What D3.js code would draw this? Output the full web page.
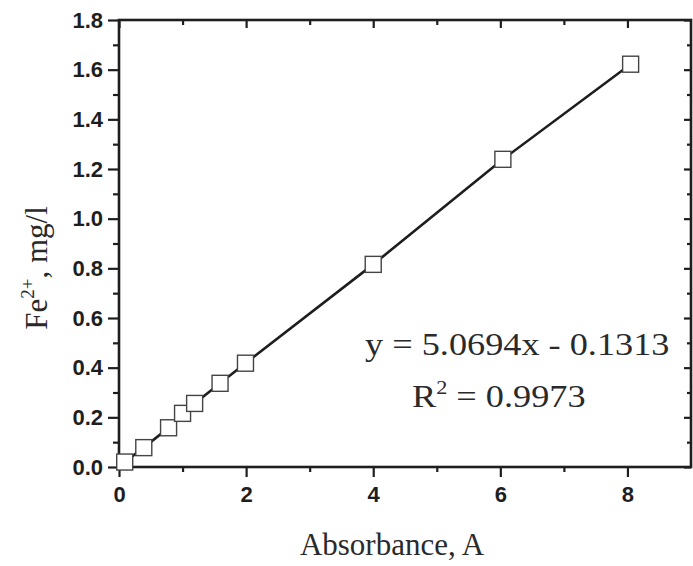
<!DOCTYPE html>
<html>
<head>
<meta charset="utf-8">
<script src="https://cdn.jsdelivr.net/npm/d3@7"></script>
<style>
  html, body { margin: 0; padding: 0; background: #fff; }
  svg { display: block; }
</style>
</head>
<body>
<div id="chart"></div>
<script>
// Data.
const absorbance = [0.09, 0.39, 0.78, 1.0, 1.19, 1.59, 1.99, 4.0, 6.04, 8.05];
const ironConc = [0.02, 0.078, 0.158, 0.216, 0.256, 0.337, 0.418, 0.816, 1.239, 1.622];
const xMajorTicks = [0, 2, 4, 6, 8];
const xMinorTicks = [1, 3, 5, 7];
const yMajorTicks = [0, 0.2, 0.4, 0.6, 0.8, 1.0, 1.2, 1.4, 1.6, 1.8];
const yMinorTicks = [0.1, 0.3, 0.5, 0.7, 0.9, 1.1, 1.3, 1.5, 1.7];
const equationText = ["y = 5.0694x - 0.1313", "0.9973"];

const width = 693;
const height = 566;
const ink = "#1e1e1e";

const svg = d3.select("#chart")
  .append("svg")
  .attr("width", width)
  .attr("height", height);

// Scales.
const x = d3.scaleLinear().domain([0, 9]).range([119, 691]);
const y = d3.scaleLinear().domain([0, 1.8]).range([467, 20]);

const tickFont = (g) => g.selectAll("text")
  .attr("font-family", "'Liberation Sans', Arial, sans-serif")
  .attr("font-weight", "bold")
  .attr("font-size", 22)
  .attr("fill", ink);

const styleAxis = (g) => {
  g.select(".domain").remove();
  g.selectAll("line").attr("stroke", ink).attr("stroke-width", 2.2);
};

// Bottom axis, outward ticks.
svg.append("g")
  .attr("transform", `translate(0,${y(0)})`)
  .call(d3.axisBottom(x).tickValues(xMajorTicks).tickSize(10).tickPadding(9).tickFormat(d3.format("d")))
  .call(styleAxis)
  .call(tickFont);
svg.append("g")
  .attr("transform", `translate(0,${y(0)})`)
  .call(d3.axisBottom(x).tickValues(xMinorTicks).tickSize(5).tickFormat(""))
  .call(styleAxis);

// Left axis, outward ticks.
svg.append("g")
  .attr("transform", `translate(${x(0)},0)`)
  .call(d3.axisLeft(y).tickValues(yMajorTicks).tickSize(11).tickPadding(5).tickFormat(d3.format(".1f")))
  .call(styleAxis)
  .call(tickFont);
svg.append("g")
  .attr("transform", `translate(${x(0)},0)`)
  .call(d3.axisLeft(y).tickValues(yMinorTicks).tickSize(6).tickFormat(""))
  .call(styleAxis);

// Top mirror axis, inward ticks.
svg.append("g")
  .attr("transform", `translate(0,${y(1.8)})`)
  .call(d3.axisBottom(x).tickValues(xMajorTicks).tickSize(8).tickFormat(""))
  .call(styleAxis);
svg.append("g")
  .attr("transform", `translate(0,${y(1.8)})`)
  .call(d3.axisBottom(x).tickValues(xMinorTicks).tickSize(5).tickFormat(""))
  .call(styleAxis);

// Right mirror axis, inward ticks.
svg.append("g")
  .attr("transform", `translate(${x(9)},0)`)
  .call(d3.axisLeft(y).tickValues(yMajorTicks).tickSize(7).tickFormat(""))
  .call(styleAxis);
svg.append("g")
  .attr("transform", `translate(${x(9)},0)`)
  .call(d3.axisLeft(y).tickValues(yMinorTicks).tickSize(4).tickFormat(""))
  .call(styleAxis);

// Frame.
svg.append("rect")
  .attr("x", x(0))
  .attr("y", y(1.8))
  .attr("width", x(9) - x(0))
  .attr("height", y(0) - y(1.8))
  .attr("fill", "none")
  .attr("stroke", ink)
  .attr("stroke-width", 2.6);

// Line through the points.
const points = absorbance.map((a, i) => [a, ironConc[i]]);
svg.append("path")
  .datum(points)
  .attr("fill", "none")
  .attr("stroke", ink)
  .attr("stroke-width", 2.6)
  .attr("d", d3.line().x((d) => x(d[0])).y((d) => y(d[1])));

// Open square markers.
const size = 16;
svg.append("g")
  .selectAll("rect")
  .data(points)
  .join("rect")
  .attr("x", (d) => x(d[0]) - size / 2)
  .attr("y", (d) => y(d[1]) - size / 2)
  .attr("width", size)
  .attr("height", size)
  .attr("fill", "#fff")
  .attr("stroke", "#444")
  .attr("stroke-width", 1.4);

// Regression text, slightly stretched horizontally like the source.
const serif = "'Liberation Serif', 'Times New Roman', serif";
svg.append("g")
  .attr("transform", "translate(365,355) scale(1.17,1)")
  .append("text")
  .attr("font-family", serif)
  .attr("font-size", 31)
  .attr("fill", "#2a2a2a")
  .text(equationText[0]);

const r2 = svg.append("g")
  .attr("transform", "translate(412,407) scale(1.17,1)")
  .append("text")
  .attr("font-family", serif)
  .attr("font-size", 31)
  .attr("fill", "#2a2a2a");
r2.append("tspan").text("R");
r2.append("tspan").attr("font-size", 19).attr("dy", -13).text("2");
r2.append("tspan").attr("dy", 13).text(" = " + equationText[1]);

// Axis titles.
svg.append("text")
  .attr("x", 392)
  .attr("y", 555)
  .attr("text-anchor", "middle")
  .attr("font-family", serif)
  .attr("font-size", 31)
  .attr("fill", "#2a2a2a")
  .text("Absorbance, A");

const yTitle = svg.append("text")
  .attr("transform", "translate(47,268) rotate(-90)")
  .attr("text-anchor", "middle")
  .attr("font-family", serif)
  .attr("font-size", 31)
  .attr("fill", "#2a2a2a");
yTitle.append("tspan").text("Fe");
yTitle.append("tspan").attr("font-size", 19).attr("dy", -13).text("2+");
yTitle.append("tspan").attr("dy", 13).text(", mg/l");
</script>
</body>
</html>
